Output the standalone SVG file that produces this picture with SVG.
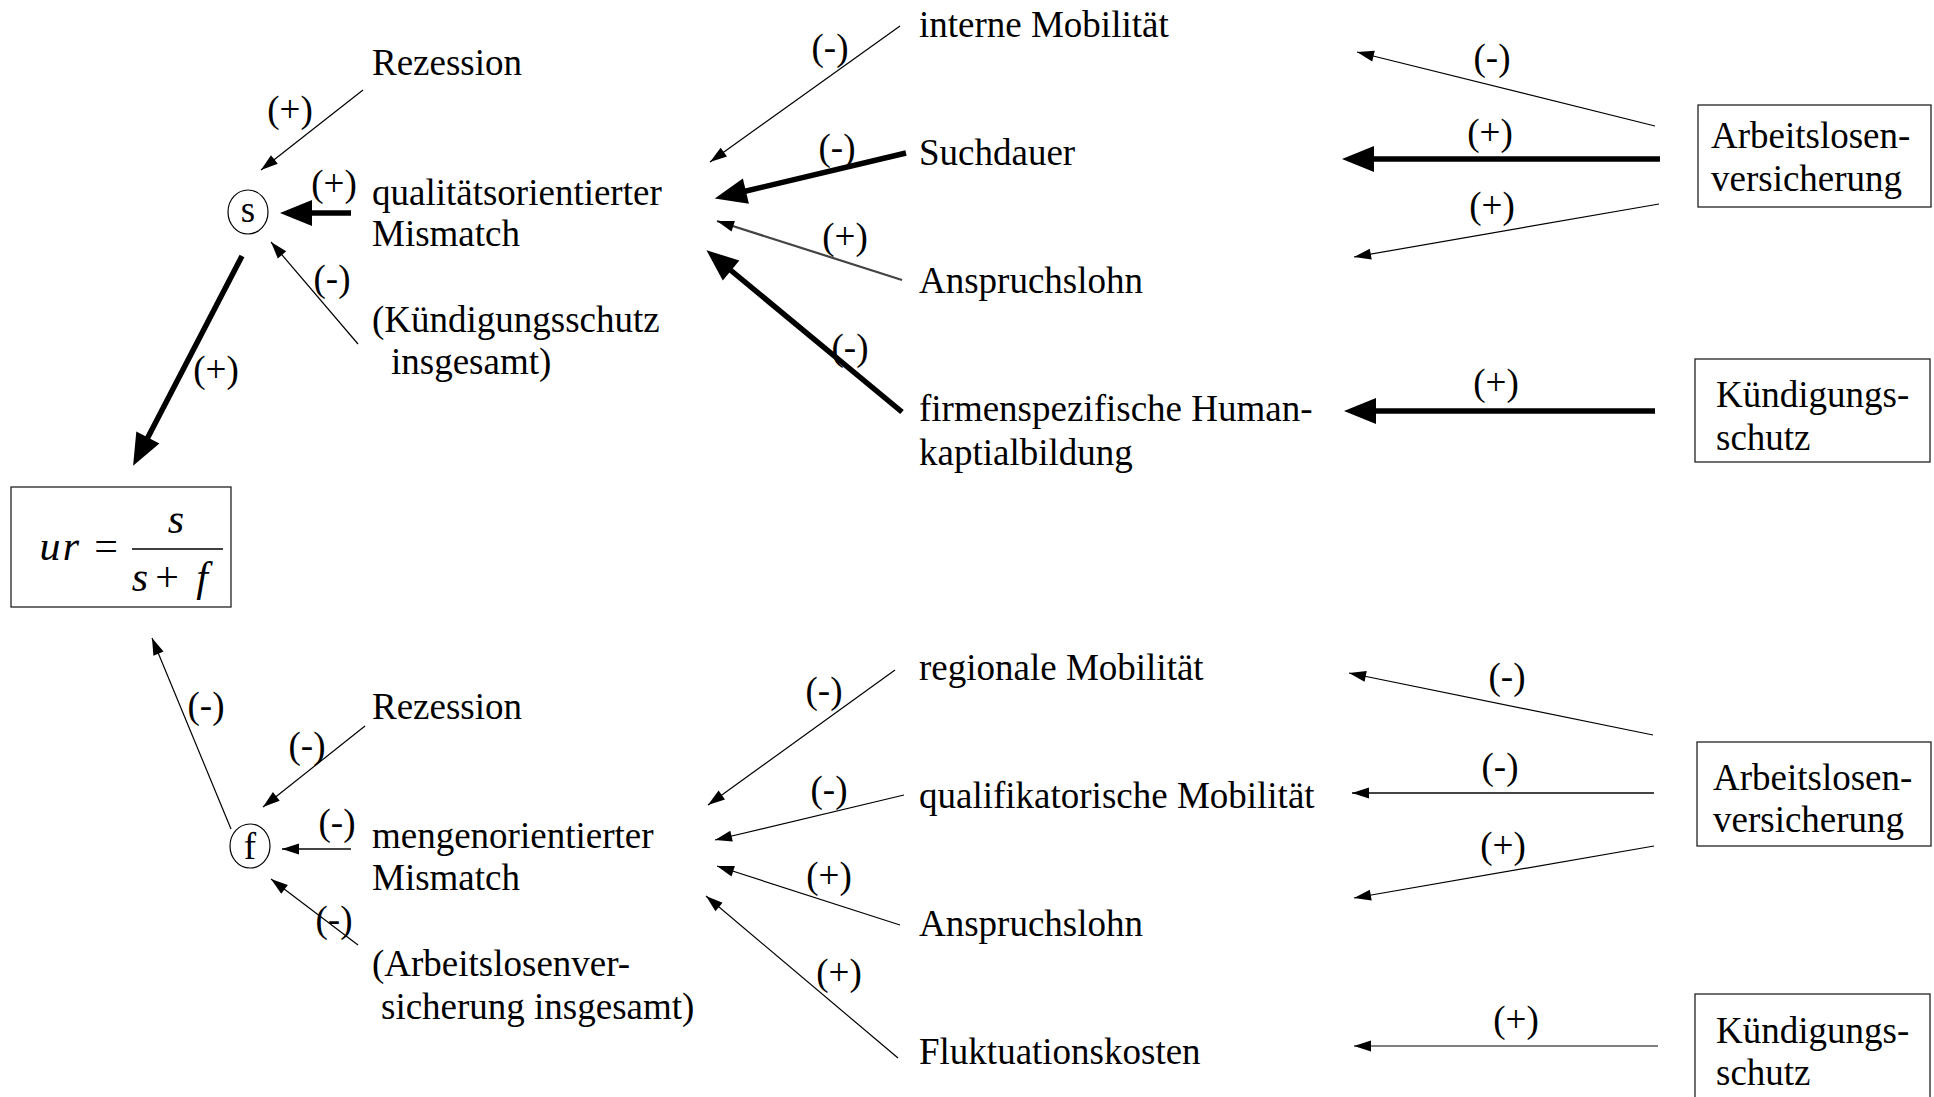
<svg xmlns="http://www.w3.org/2000/svg" width="1934" height="1097" viewBox="0 0 1934 1097">
<style>
.t{font-family:"Liberation Serif","Times New Roman",serif;font-size:37px;fill:#000}
.l{font-family:"Liberation Serif","Times New Roman",serif;font-size:37px;fill:#000;text-anchor:middle}
.f{font-family:"Liberation Serif","Times New Roman",serif;font-size:42px;fill:#000;text-anchor:middle}
.i{font-style:italic}
.box{fill:#fff;stroke:#222;stroke-width:1.3}
.circ{fill:none;stroke:#000;stroke-width:1.2}
.c{stroke:#000;stroke-width:1.2;fill:none;marker-end:url(#ah)}
.m{stroke:#444;stroke-width:2.2;fill:none;marker-end:url(#ah)}
.k{stroke:#000;stroke-width:5.5;fill:none;marker-end:url(#ahk)}
</style>
<defs>
<marker id="ah" markerUnits="userSpaceOnUse" markerWidth="18" markerHeight="12" refX="17" refY="5.5" orient="auto" overflow="visible"><path d="M0,0 L17,5.5 L0,11 z" fill="#000"/></marker>
<marker id="ahk" markerUnits="userSpaceOnUse" markerWidth="34" markerHeight="28" refX="4" refY="13" orient="auto" overflow="visible"><path d="M0,0 L32,13 L0,26 z" fill="#000"/></marker>
</defs>
<rect width="1934" height="1097" fill="#fff"/>

<g id="connectors">
<line class="c" x1="363" y1="90" x2="261" y2="170"/>
<line class="k" x1="351" y1="213" x2="308" y2="213"/>
<line class="c" x1="358" y1="344" x2="271" y2="242"/>
<line class="k" x1="242" y1="256" x2="146" y2="441"/>
<line class="c" x1="231" y1="829" x2="152" y2="638"/>
<line class="c" x1="365" y1="726" x2="263" y2="807"/>
<line class="m" x1="351" y1="849" x2="282" y2="849"/>
<line class="c" x1="358" y1="945" x2="271" y2="879"/>
<line class="c" x1="900" y1="26" x2="710" y2="162"/>
<line class="k" x1="906" y1="153" x2="742" y2="192"/>
<line class="m" x1="902" y1="280" x2="717" y2="221"/>
<line class="k" x1="902" y1="412" x2="728" y2="268"/>
<line class="c" x1="895" y1="670" x2="708" y2="805"/>
<line class="c" x1="904" y1="795" x2="715" y2="840"/>
<line class="c" x1="900" y1="925" x2="717" y2="866"/>
<line class="c" x1="898" y1="1058" x2="706" y2="896"/>
<line class="c" x1="1655" y1="126" x2="1357" y2="52"/>
<line class="k" x1="1660" y1="159" x2="1370" y2="159"/>
<line class="c" x1="1659" y1="204" x2="1354" y2="257"/>
<line class="k" x1="1655" y1="411" x2="1372" y2="411"/>
<line class="c" x1="1653" y1="735" x2="1349" y2="673"/>
<line class="m" x1="1654" y1="793" x2="1352" y2="793"/>
<line class="c" x1="1654" y1="846" x2="1354" y2="898"/>
<line class="c" x1="1658" y1="1046" x2="1354" y2="1046"/>
</g>

<g id="edge-labels">
<text class="l" x="290" y="122">(+)</text>
<text class="l" x="334" y="196">(+)</text>
<text class="l" x="332" y="291">(-)</text>
<text class="l" x="216" y="382">(+)</text>
<text class="l" x="206" y="718">(-)</text>
<text class="l" x="307" y="758">(-)</text>
<text class="l" x="337" y="835">(-)</text>
<text class="l" x="334" y="932">(-)</text>
<text class="l" x="830" y="60">(-)</text>
<text class="l" x="837" y="160">(-)</text>
<text class="l" x="845" y="249">(+)</text>
<text class="l" x="850" y="360">(-)</text>
<text class="l" x="824" y="703">(-)</text>
<text class="l" x="829" y="802">(-)</text>
<text class="l" x="829" y="888">(+)</text>
<text class="l" x="839" y="985">(+)</text>
<text class="l" x="1492" y="70">(-)</text>
<text class="l" x="1490" y="145">(+)</text>
<text class="l" x="1492" y="218">(+)</text>
<text class="l" x="1496" y="395">(+)</text>
<text class="l" x="1507" y="689">(-)</text>
<text class="l" x="1500" y="779">(-)</text>
<text class="l" x="1503" y="858">(+)</text>
<text class="l" x="1516" y="1032">(+)</text>
</g>

<g id="node-s"><ellipse class="circ" cx="248" cy="212" rx="20" ry="22"/><text class="l" x="248" y="222">s</text></g>
<g id="node-f"><ellipse class="circ" cx="250" cy="846" rx="20" ry="22"/><text class="l" x="250" y="859">f</text></g>

<g id="node-ur">
<rect class="box" x="11" y="487" width="220" height="120"/>
<text class="f i" x="50" y="560">u</text>
<text class="f i" x="71" y="560">r</text>
<text class="f" x="106" y="560">=</text>
<line x1="132" y1="549" x2="223" y2="549" stroke="#000" stroke-width="1.5"/>
<text class="f i" x="176" y="533">s</text>
<text class="f i" x="140" y="591">s</text>
<text class="f" x="167" y="591">+</text>
<text class="f i" x="202" y="591">f</text>
</g>

<g id="rezession-top"><text class="t" x="372" y="75">Rezession</text></g>
<g id="qual-mismatch"><text class="t" x="372" y="205">qualitätsorientierter</text><text class="t" x="372" y="246">Mismatch</text></g>
<g id="ks-insgesamt"><text class="t" x="372" y="332">(Kündigungsschutz</text><text class="t" x="391" y="374">insgesamt)</text></g>

<g id="rezession-bottom"><text class="t" x="372" y="719">Rezession</text></g>
<g id="mengen-mismatch"><text class="t" x="372" y="848">mengenorientierter</text><text class="t" x="372" y="890">Mismatch</text></g>
<g id="av-insgesamt"><text class="t" x="372" y="976">(Arbeitslosenver-</text><text class="t" x="381" y="1019">sicherung insgesamt)</text></g>

<g id="interne-mobilitaet"><text class="t" x="919" y="37">interne Mobilität</text></g>
<g id="suchdauer-top"><text class="t" x="919" y="165">Suchdauer</text></g>
<g id="anspruchslohn-top"><text class="t" x="919" y="293">Anspruchslohn</text></g>
<g id="humankapital"><text class="t" x="919" y="421">firmenspezifische Human-</text><text class="t" x="919" y="465">kaptialbildung</text></g>

<g id="regionale-mobilitaet"><text class="t" x="919" y="680">regionale Mobilität</text></g>
<g id="qualifikatorische-mobilitaet"><text class="t" x="919" y="808">qualifikatorische Mobilität</text></g>
<g id="anspruchslohn-bottom"><text class="t" x="919" y="936">Anspruchslohn</text></g>
<g id="fluktuationskosten"><text class="t" x="919" y="1064">Fluktuationskosten</text></g>

<g id="av-top"><rect class="box" x="1698" y="105" width="233" height="102"/><text class="t" x="1711" y="148">Arbeitslosen-</text><text class="t" x="1711" y="191">versicherung</text></g>
<g id="ks-top"><rect class="box" x="1695" y="359" width="235" height="103"/><text class="t" x="1716" y="407">Kündigungs-</text><text class="t" x="1716" y="450">schutz</text></g>
<g id="av-bottom"><rect class="box" x="1697" y="742" width="234" height="104"/><text class="t" x="1713" y="790">Arbeitslosen-</text><text class="t" x="1713" y="832">versicherung</text></g>
<g id="ks-bottom"><rect class="box" x="1695" y="994" width="235" height="115"/><text class="t" x="1716" y="1043">Kündigungs-</text><text class="t" x="1716" y="1085">schutz</text></g>
</svg>
